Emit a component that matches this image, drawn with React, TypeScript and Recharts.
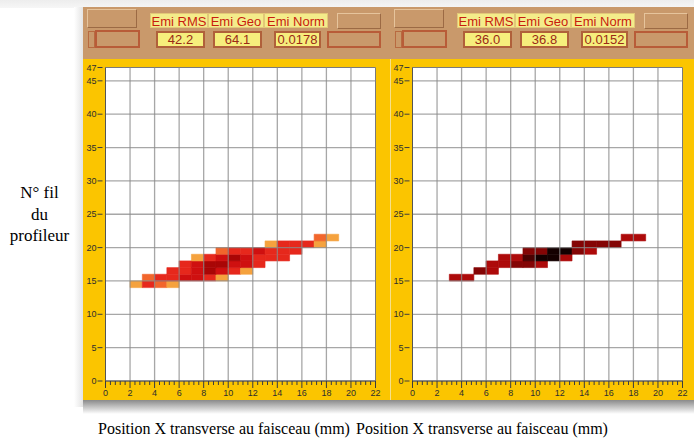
import React from 'react';
import {
  ScatterChart,
  Scatter,
  XAxis,
  YAxis,
  CartesianGrid,
  ReferenceArea,
  ReferenceLine,
} from 'recharts';

// n° de fil (une ligne de cellules par fil)
const wires = [14, 15, 16, 17, 18, 19, 20, 21];

// profileur gauche : première position x de chaque ligne, puis niveaux (1..5)
const leftStarts = [2, 3, 5, 6, 7, 9, 13, 17];
const leftLevels = [
  [1, 3, 2, 1],
  [2, 3, 3, 4, 4, 3, 1],
  [3, 3, 4, 5, 4, 3, 1],
  [3, 4, 5, 5, 4, 4, 3],
  [1, 3, 4, 5, 4, 3, 3, 3],
  [2, 3, 3, 4, 3, 3, 3],
  [1, 3, 3, 3, 1],
  [2, 1],
];

// profileur droit : même principe (1..4)
const rightStarts = [3, 3, 5, 6, 7, 9, 13, 17];
const rightLevels = [
  [],
  [1, 1],
  [2, 1],
  [1, 1, 2, 2, 1],
  [1, 1, 3, 4, 4, 1],
  [2, 2, 4, 4, 2, 1],
  [2, 2, 2, 2],
  [1, 1],
];

const statLabels = ['Emi RMS', 'Emi Geo', 'Emi Norm'];
const leftStats = ['42.2', '64.1', '0.0178'];
const rightStats = ['36.0', '36.8', '0.0152'];

const xLabels = [0, 2, 4, 6, 8, 10, 12, 14, 16, 18, 20, 22];
const yTicks = [0, 5, 10, 15, 20, 25, 30, 35, 40, 45, 47];

const leftPalette = ['#f5a23e', '#f2662c', '#e6281c', '#cf1010', '#a90606'];
const rightPalette = ['#ad0a0a', '#840505', '#4a0202', '#140000'];

const YELLOW = '#fbc500';
const TAN = '#c9996b';
const SANS = '"Liberation Sans", Arial, sans-serif';

// petites graduations toutes les 0.4 mm
const xAllTicks: number[] = [];
for (let k = 0; k <= 55; k++) xAllTicks.push(Math.round(k * 4) / 10);
const xGrid = xLabels.slice(1, -1);
const yGrid = yTicks.slice(1, -1);

const XTick = (p: any) => {
  const v = p.payload.value;
  const major = xLabels.some((l) => Math.abs(l - v) < 1e-6);
  return (
    <g>
      <line x1={p.x} x2={p.x} y1={p.y} y2={p.y + (major ? 7 : 4)} stroke="#3c3c3c" strokeWidth={1} />
      {major && (
        <text x={p.x} y={p.y + 14.5} textAnchor="middle" fontSize={9} fontFamily={SANS} fill="#2e2e2e">
          {Math.round(v)}
        </text>
      )}
    </g>
  );
};

const YTick = (p: any) => (
  <g>
    <line x1={p.x - 8} x2={p.x - 3} y1={p.y} y2={p.y} stroke="#3c3c3c" strokeWidth={1} />
    <text x={p.x - 9} y={p.y + 3} textAnchor="end" fontSize={9} fontFamily={SANS} fill="#2e2e2e">
      {p.payload.value}
    </text>
  </g>
);

function Header({ left, stats }: { left: number; stats: string[] }) {
  const box = (l: number, t: number, w: number, h: number, extra: React.CSSProperties) => (
    <div style={{ position: 'absolute', left: left + l, top: t, width: w, height: h, boxSizing: 'border-box', ...extra }} />
  );
  const light = { borderTop: '1px solid #e6c49c', borderLeft: '1px solid #e6c49c', borderBottom: '1px solid #9c6a44', borderRight: '1px solid #9c6a44' };
  const dark = { border: '2px solid #b85c38' };
  const labelX = [67, 125, 181];
  const labelW = [58, 56, 64];
  const valueX = [73, 130, 191];
  const valueW = [49, 49, 47];
  return (
    <>
      {box(4, 9, 50, 19, light)}
      {box(254, 13, 44, 16, light)}
      {box(5, 31, 7, 17, { border: '1px solid #b86a40' })}
      {box(12, 30, 45, 18, dark)}
      {box(244, 31, 54, 17, dark)}
      {statLabels.map((s, i) => (
        <div
          key={s}
          style={{
            position: 'absolute', left: left + labelX[i], top: 13, width: labelW[i], height: 15,
            background: '#f4ec8a', color: '#c81c0e', font: `13px ${SANS}`, lineHeight: '15px',
            textAlign: 'center', whiteSpace: 'nowrap', boxSizing: 'border-box', border: '1px solid #e2c878',
          }}
        >
          {s}
        </div>
      ))}
      {stats.map((s, i) => (
        <div
          key={i}
          style={{
            position: 'absolute', left: left + valueX[i], top: 31, width: valueW[i], height: 17,
            background: '#f6ee7c', color: '#9a2a16', font: `13px ${SANS}`, lineHeight: '13px',
            textAlign: 'center', boxSizing: 'border-box', border: '2px solid #b0603a',
          }}
        >
          {s}
        </div>
      ))}
    </>
  );
}

function Panel({ left, starts, levels, palette }: { left: number; starts: number[]; levels: number[][]; palette: string[] }) {
  const cells: { x: number; y: number; lv: number }[] = [];
  wires.forEach((w, r) => levels[r].forEach((lv, i) => cells.push({ x: starts[r] + i + 0.5, y: w + 0.5, lv })));
  return (
    <div style={{ position: 'absolute', left, top: 59, width: 307, height: 341, background: YELLOW }}>
      <ScatterChart width={307} height={341} margin={{ top: 8.5, right: 14.5, bottom: 2, left: 0.5 }}>
        <CartesianGrid fill="#ffffff" horizontal={false} vertical={false} />
        <XAxis
          type="number" dataKey="x" domain={[0, 22]} ticks={xAllTicks} interval={0}
          tickSize={0} tickMargin={0} tick={XTick} axisLine={{ stroke: '#555' }} height={17} allowDataOverflow
        />
        <YAxis
          type="number" dataKey="y" domain={[0, 47]} ticks={yTicks} interval={0}
          tickSize={0} tickMargin={0} tick={YTick} axisLine={{ stroke: '#555' }} width={22} allowDataOverflow
        />
        {cells.map((c) => (
          <ReferenceArea
            key={`${c.x}-${c.y}`}
            x1={c.x - 0.5} x2={c.x + 0.5} y1={c.y - 0.5} y2={c.y + 0.5}
            fill={palette[c.lv - 1]} fillOpacity={1} stroke={palette[c.lv - 1]} strokeWidth={0.6}
          />
        ))}
        {xGrid.map((v) => (
          <ReferenceLine key={`gx${v}`} x={v} stroke="#8a8a8a" strokeWidth={1.3} strokeOpacity={0.75} />
        ))}
        {yGrid.map((v) => (
          <ReferenceLine key={`gy${v}`} y={v} stroke="#8a8a8a" strokeWidth={1.3} strokeOpacity={0.75} />
        ))}
        <ReferenceArea x1={0} x2={22} y1={0} y2={47} fill="none" stroke="#7a7a7a" strokeWidth={1} />
        <Scatter data={cells} isAnimationActive={false} shape={() => <g />} />
      </ScatterChart>
    </div>
  );
}

export default function App() {
  const serif = '"Liberation Serif", "Times New Roman", serif';
  return (
    <div style={{ position: 'absolute', left: 0, top: 0, width: 694, height: 441, background: '#fff', overflow: 'hidden' }}>
      <div style={{ position: 'absolute', left: 0, top: 0, width: 694, height: 8, background: 'linear-gradient(#ededed, #f6f6f6)' }} />
      <div style={{ position: 'absolute', left: 83, top: 7, width: 611, height: 52, background: TAN }} />
      <div style={{ position: 'absolute', left: 83, top: 400, width: 611, height: 14, background: 'linear-gradient(#8a8a8a, #ffffff)' }} />
      <div style={{ position: 'absolute', left: 74, top: 7, width: 9, height: 400, background: 'linear-gradient(to right, #ffffff, #e4e4e4)' }} />
      <Header left={83} stats={leftStats} />
      <Header left={390} stats={rightStats} />
      <Panel left={83} starts={leftStarts} levels={leftLevels} palette={leftPalette} />
      <Panel left={390} starts={rightStarts} levels={rightLevels} palette={rightPalette} />
      <div style={{ position: 'absolute', left: 390, top: 59, width: 1, height: 341, background: '#f6e08a' }} />
      <div
        style={{
          position: 'absolute', left: 0, top: 182, width: 79, textAlign: 'center',
          font: `17px ${serif}`, lineHeight: '21.5px', color: '#000',
        }}
      >
        N° fil
        <br />
        du
        <br />
        profileur
      </div>
      <div style={{ position: 'absolute', left: 98, top: 420, font: `16px ${serif}`, lineHeight: '18px', whiteSpace: 'nowrap' }}>
        Position X transverse au faisceau (mm)
      </div>
      <div style={{ position: 'absolute', left: 356, top: 420, font: `16px ${serif}`, lineHeight: '18px', whiteSpace: 'nowrap' }}>
        Position X transverse au faisceau (mm)
      </div>
    </div>
  );
}
